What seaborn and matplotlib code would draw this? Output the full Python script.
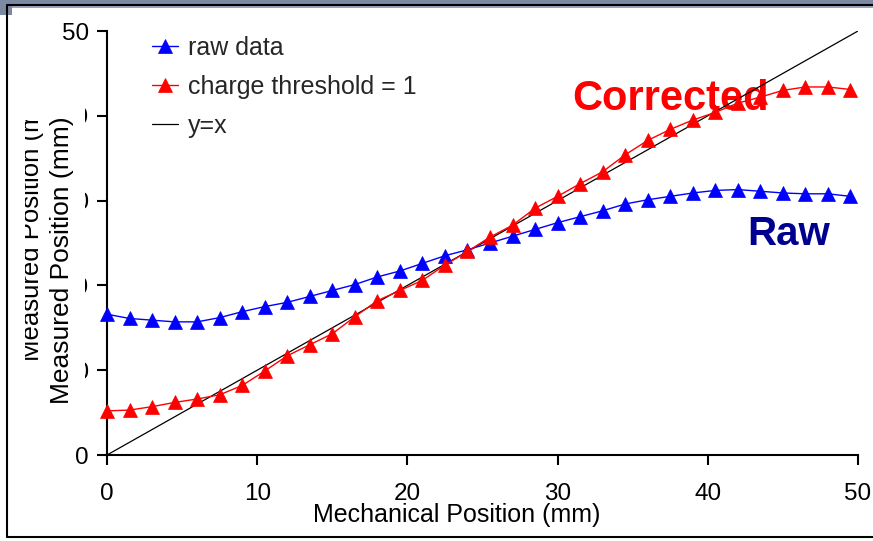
import matplotlib
matplotlib.use("Agg")
import matplotlib.pyplot as plt
import seaborn as sns
from matplotlib.patches import Rectangle
from matplotlib.lines import Line2D
from matplotlib.transforms import Bbox

# Mechanical stage position (mm) and measured positions (mm)
mech_pos = [0, 1.5, 3, 4.5, 6, 7.5, 9, 10.5, 12, 13.5, 15, 16.5, 18, 19.5, 21,
            22.5, 24, 25.5, 27, 28.5, 30, 31.5, 33, 34.5, 36, 37.5, 39, 40.5,
            42, 43.5, 45, 46.5, 48, 49.5]
raw_data = [16.6, 16.1, 15.9, 15.7, 15.7, 16.2, 16.9, 17.5, 18.0, 18.7, 19.4,
            20.1, 21.0, 21.7, 22.6, 23.5, 24.2, 25.0, 25.8, 26.6, 27.4, 28.1,
            28.8, 29.6, 30.1, 30.5, 30.9, 31.2, 31.3, 31.1, 30.9, 30.8, 30.8,
            30.5]
corrected = [5.2, 5.3, 5.7, 6.2, 6.6, 7.1, 8.2, 9.9, 11.7, 13.0, 14.3, 16.3,
             18.2, 19.4, 20.6, 22.4, 24.0, 25.7, 27.1, 29.1, 30.5, 32.0, 33.4,
             35.4, 37.1, 38.4, 39.5, 40.4, 41.5, 42.2, 43.0, 43.4, 43.4, 43.1]
identity = [0, 50]

series_labels = ["raw data", "charge threshold = 1", "y=x"]
axis_ticks = [0, 10, 20, 30, 40, 50]

sns.set_theme(style="ticks")
plt.rcParams["font.family"] = ["Liberation Sans", "DejaVu Sans"]

W, H = 873, 541
fig = plt.figure(figsize=(W / 100, H / 100), dpi=100)
fig.patch.set_facecolor("white")


def fx(px):
    return px / W


def fy(py):
    return 1 - py / H


ax = fig.add_axes([fx(107), fy(455), fx(858) - fx(107), fy(31) - fy(455)])
ax.set_facecolor("white")

common = dict(marker="^", markersize=10, markeredgewidth=0.5, linewidth=1.0,
              clip_on=False, ax=ax)
sns.lineplot(x=mech_pos, y=raw_data, color="#0000FF", markeredgecolor="#0000FF",
             label=series_labels[0], zorder=4, **common)
sns.lineplot(x=mech_pos, y=corrected, color="#FF0000", markeredgecolor="#FF0000",
             label=series_labels[1], zorder=5, **common)
sns.lineplot(x=identity, y=identity, color="black", linewidth=0.9,
             label=series_labels[2], zorder=3, ax=ax)

ax.set_xlim(0, 50)
ax.set_ylim(0, 50)
ax.set_xticks(axis_ticks)
ax.set_yticks(axis_ticks)
sns.despine(ax=ax)
for side in ("left", "bottom"):
    ax.spines[side].set_linewidth(1.5)
    ax.spines[side].set_color("black")
ax.tick_params(direction="out", length=7, width=1.5, color="black",
               labelsize=17.5, labelcolor="black", bottom=True, left=True)
ax.tick_params(axis="x", pad=13)
ax.tick_params(axis="y", pad=6)
ax.grid(False)

ax.set_xlabel("Mechanical Position (mm)", fontsize=18, color="black")
ax.xaxis.set_label_coords(0.466, -0.113)
ax.set_ylabel("")

ax.legend(loc="upper left", bbox_to_anchor=(0.06, 0.989), frameon=False,
          fontsize=18, handlelength=1.05, handletextpad=0.4, labelspacing=0.61,
          borderpad=0, borderaxespad=0)

ax.text(31.0, 40.7, "Corrected", color="#FF0000", fontsize=30,
        fontweight="bold", ha="left", va="baseline", zorder=1)
ax.text(42.6, 24.76, "Raw", color="#000090", fontsize=29,
        fontweight="bold", ha="left", va="baseline", zorder=1)

# slide frame around the chart
fig.add_artist(Rectangle((0, fy(4)), 1, 4 / H, transform=fig.transFigure,
                         facecolor="#7b89a3", edgecolor="none", zorder=-2))
fig.add_artist(Rectangle((fx(12), fy(8)), 1, 4 / H, transform=fig.transFigure,
                         facecolor="#9aa6bb", edgecolor="none", zorder=-2))
fig.add_artist(Rectangle((0, fy(15)), fx(12), 15 / H, transform=fig.transFigure,
                         facecolor="#7b89a3", edgecolor="none", zorder=-2))
fig.add_artist(Line2D([fx(7), fx(7), 1.01], [fy(537), fy(4.5), fy(4.5)],
                      transform=fig.transFigure, color="black", linewidth=1.5,
                      zorder=-1))
fig.add_artist(Line2D([fx(7), 1.01], [fy(537), fy(537)],
                      transform=fig.transFigure, color="black", linewidth=1.5,
                      zorder=-1))

# earlier axis title, partly hidden
old_title = fig.text(fx(39), fy(361), "Measured Position (mm)", rotation=90,
                     rotation_mode="anchor", ha="left", va="baseline",
                     fontsize=18.5, color="black", zorder=6)
old_title.set_clip_box(Bbox.from_extents(25, H - 366, 50, H - 120))
old_title.set_clip_on(True)

# white panel behind the current axis title
fig.add_artist(Rectangle((fx(42), fy(418)), fx(85) - fx(42), (418 - 100) / H,
                         transform=fig.transFigure, facecolor="white",
                         edgecolor="none", zorder=5))
fig.text(fx(62), fy(260), "Measured Position (mm)", rotation=90, ha="center",
         va="center", fontsize=19, color="black", zorder=6)

fig.savefig("out.png", dpi=100)
